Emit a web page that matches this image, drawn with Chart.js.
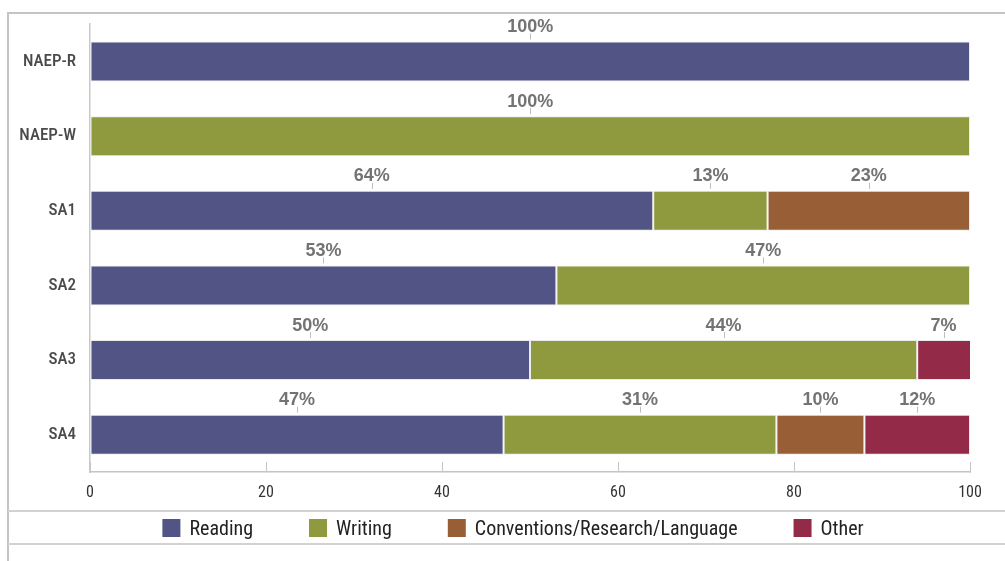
<!DOCTYPE html>
<html>
<head>
<meta charset="utf-8">
<title>Share of items by content area</title>
<script src="https://cdn.jsdelivr.net/npm/chart.js@4/dist/chart.umd.min.js"></script>
<style>
  html, body { margin: 0; padding: 0; background: #ffffff; }
  #wrap { position: relative; width: 1005px; height: 561px; }
</style>
</head>
<body>
<div id="wrap"><canvas id="chart" width="1005" height="561"></canvas></div>
<script>
// Assessments (rows) and percentage of items per content area
const categories = ['NAEP-R', 'NAEP-W', 'SA1', 'SA2', 'SA3', 'SA4'];
const reading     = [100, null, 64, 53, 50, 47];
const writing     = [null, 100, 13, 47, 44, 31];
const conventions = [null, null, 23, null, null, 10];
const other       = [null, null, null, null, 7, 12];
const seriesNames = ['Reading', 'Writing', 'Conventions/Research/Language', 'Other'];
const seriesColors = ['#535486', '#8f9a3f', '#985f36', '#922a48'];
const xTickValues = [0, 20, 40, 60, 80, 100];

const seriesData = [reading, writing, conventions, other];
const NARROW = "'Roboto Condensed', 'DejaVu Sans Condensed', sans-serif";
const WIDE = "'Liberation Sans', Arial, sans-serif";

// Outer frame and the rules around the legend strip
const framePlugin = {
  id: 'frame',
  beforeDraw(chart) {
    const ctx = chart.ctx;
    ctx.save();
    ctx.lineWidth = 2;
    ctx.strokeStyle = '#c4c4c4';
    ctx.beginPath();
    ctx.moveTo(8, chart.height);
    ctx.lineTo(8, 13);
    ctx.lineTo(chart.width, 13);
    ctx.stroke();
    ctx.strokeStyle = '#d2d2d2';
    ctx.beginPath();
    ctx.moveTo(8, 511);
    ctx.lineTo(chart.width, 511);
    ctx.moveTo(8, 544);
    ctx.lineTo(chart.width, 544);
    ctx.stroke();
    ctx.restore();
  }
};

// Percentage labels centred over each segment, with a small leader tick
const valueLabelPlugin = {
  id: 'valueLabels',
  afterDatasetsDraw(chart) {
    const ctx = chart.ctx;
    const area = chart.chartArea;
    ctx.save();
    ctx.font = 'bold 18px ' + WIDE;
    ctx.fillStyle = '#737373';
    ctx.textAlign = 'center';
    ctx.textBaseline = 'middle';
    chart.data.datasets.forEach((ds, di) => {
      const meta = chart.getDatasetMeta(di);
      meta.data.forEach((bar, i) => {
        const v = ds.data[i];
        if (v == null) return;
        const p = bar.getProps(['x', 'y', 'base', 'height'], true);
        const left = Math.max(Math.min(p.x, p.base), area.left);
        const right = Math.min(Math.max(p.x, p.base), area.right);
        const cx = (left + right) / 2;
        const top = p.y - p.height / 2;
        ctx.strokeStyle = '#bdbdbd';
        ctx.lineWidth = 1;
        ctx.beginPath();
        ctx.moveTo(Math.round(cx) + 0.5, top - 8);
        ctx.lineTo(Math.round(cx) + 0.5, top - 2);
        ctx.stroke();
        ctx.fillText(v + '%', cx, top - 14.5);
      });
    });
    ctx.restore();
  }
};

// Legend row drawn from the dataset labels and colours
const legendPlugin = {
  id: 'legendRow',
  afterDraw(chart) {
    const ctx = chart.ctx;
    const box = 18, textGap = 9, itemGap = 56, cy = 528, centre = 513;
    ctx.save();
    ctx.font = '20px ' + NARROW;
    ctx.textBaseline = 'middle';
    ctx.textAlign = 'left';
    const items = chart.data.datasets.map(ds => ({
      text: ds.label, color: ds.backgroundColor, w: ctx.measureText(ds.label).width
    }));
    const total = items.reduce((s, it) => s + box + textGap + it.w, 0) + itemGap * (items.length - 1);
    let x = centre - total / 2;
    items.forEach(it => {
      ctx.fillStyle = it.color;
      ctx.fillRect(x, cy - box / 2, box, box);
      ctx.fillStyle = '#222222';
      ctx.fillText(it.text, x + box + textGap, cy + 1.5);
      x += box + textGap + it.w + itemGap;
    });
    ctx.restore();
  }
};

const chart = new Chart(document.getElementById('chart'), {
  type: 'bar',
  data: {
    labels: categories,
    datasets: seriesData.map((d, i) => ({
      label: seriesNames[i],
      data: d,
      backgroundColor: seriesColors[i],
      borderColor: '#ebebeb',
      borderWidth: 1,
      borderSkipped: false,
      barPercentage: 0.536,
      categoryPercentage: 1,
      clip: { left: 4, top: 4, right: 0, bottom: 4 }
    }))
  },
  options: {
    indexAxis: 'y',
    responsive: false,
    animation: false,
    devicePixelRatio: 1,
    layout: { padding: { left: 20, right: 35, top: 24, bottom: 53 } },
    scales: {
      x: {
        stacked: true,
        min: 0,
        max: 100,
        afterBuildTicks: s => { s.ticks = xTickValues.map(v => ({ value: v })); },
        afterFit: s => { s.height = 36; },
        grid: { drawOnChartArea: false, drawTicks: true, tickLength: -10, color: '#c4c4c4', lineWidth: 1 },
        border: { display: true, color: '#c4c4c4', width: 1.5 },
        ticks: { padding: 21, color: '#333333', font: { family: NARROW, size: 16 } }
      },
      y: {
        stacked: true,
        afterFit: s => { s.width = 70; },
        grid: { display: true, drawOnChartArea: false, drawTicks: false },
        border: { display: true, color: '#c8c8c8', width: 1.5 },
        ticks: { padding: 14, color: '#4a4a4a', font: { family: NARROW, size: 17, weight: '500' } }
      }
    },
    plugins: {
      legend: { display: false },
      tooltip: { enabled: false }
    }
  },
  plugins: [framePlugin, valueLabelPlugin, legendPlugin]
});
</script>
</body>
</html>
